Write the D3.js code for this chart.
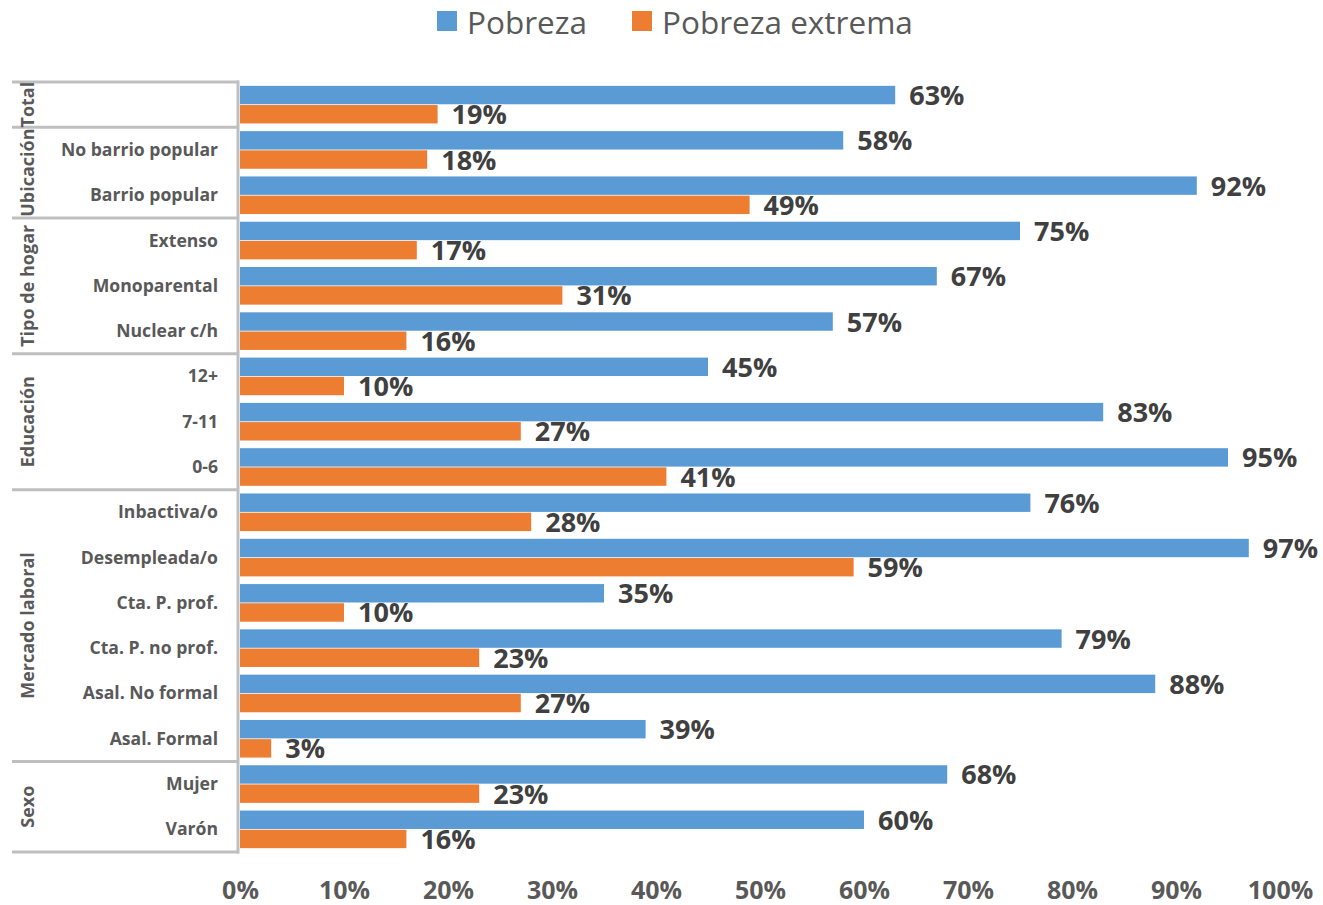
<!DOCTYPE html>
<html><head><meta charset="utf-8">
<script src="https://cdn.jsdelivr.net/npm/d3@7"></script>
<style>body{margin:0;background:#fff}svg{display:block}</style>
</head><body>
<svg id="c" width="1323" height="905"></svg>
<script>
const categories = ["Total","No barrio popular","Barrio popular","Extenso","Monoparental","Nuclear c/h","12+","7-11","0-6","Inbactiva/o","Desempleada/o","Cta. P. prof.","Cta. P. no prof.","Asal. No formal","Asal. Formal","Mujer","Varón"];
const categoryLabels = ["","No barrio popular","Barrio popular","Extenso","Monoparental","Nuclear c/h","12+","7-11","0-6","Inbactiva/o","Desempleada/o","Cta. P. prof.","Cta. P. no prof.","Asal. No formal","Asal. Formal","Mujer","Varón"];
const groups = ["Total","Ubicación","Tipo de hogar","Educación","Mercado laboral","Sexo"];
const groupSizes = [1,2,3,3,6,2];
const pobreza = [63,58,92,75,67,57,45,83,95,76,97,35,79,88,39,68,60];
const extrema = [19,18,49,17,31,16,10,27,41,28,59,10,23,27,3,23,16];
const seriesNames = ["Pobreza","Pobreza extrema"];
const xTicks = [0,10,20,30,40,50,60,70,80,90,100];

const colors = ["#5B9BD5","#ED7D31"];
const svg = d3.select("#c");
const font = "'Open Sans', sans-serif";

const x = d3.scaleLinear().domain([0,100]).range([240,1280]);
const y = d3.scaleBand().domain(categories).range([82,852]).padding(0);
const sub = d3.scaleBand().domain([0,1]).range([0,y.bandwidth()]).paddingInner(0.04).paddingOuter(0.2);

// group frame lines
const gridColor = "#bfbfbf";
let idx = 0;
const bounds = [0];
groupSizes.forEach(s => { idx += s; bounds.push(idx); });
const rowTop = i => i < categories.length ? y(categories[i]) : y.range()[1];
bounds.forEach(b => {
  svg.append("line").attr("x1",12).attr("x2",239).attr("y1",rowTop(b)).attr("y2",rowTop(b))
    .attr("stroke",gridColor).attr("stroke-width",3);
});
svg.append("line").attr("x1",238).attr("x2",238).attr("y1",80.5).attr("y2",853.5)
  .attr("stroke",gridColor).attr("stroke-width",3);

// group labels
groups.forEach((g,i) => {
  const cy = (rowTop(bounds[i]) + rowTop(bounds[i+1]))/2;
  svg.append("text").attr("transform",`translate(34,${cy}) rotate(-90)`)
    .attr("text-anchor","middle").attr("font-family",font).attr("font-weight","bold")
    .attr("font-size",18).attr("fill","#595959").text(g);
});

// category labels
svg.append("g").selectAll("text").data(categories).join("text")
  .attr("x",218).attr("y",d => y(d)+y.bandwidth()/2+6)
  .attr("text-anchor","end").attr("font-family",font).attr("font-weight","bold")
  .attr("font-size",17.6).attr("fill","#595959")
  .text((d,i) => categoryLabels[i]);

// bars
const series = [pobreza, extrema];
series.forEach((vals,si) => {
  const g = svg.append("g");
  g.selectAll("rect").data(categories).join("rect")
    .attr("x",x(0)).attr("y",d => y(d)+sub(si))
    .attr("width",(d,i) => x(vals[i]) - x(0)).attr("height",sub.bandwidth())
    .attr("fill",colors[si]);
  g.selectAll("text").data(categories).join("text")
    .attr("x",(d,i) => x(vals[i]) + 14)
    .attr("y",d => y(d)+sub(si)+sub.bandwidth()/2+10)
    .attr("font-family",font).attr("font-weight","bold").attr("font-size",27)
    .attr("fill","#404040").text((d,i) => vals[i] + "%");
});

// x axis
const ax = svg.append("g").attr("transform","translate(0,881)")
  .call(d3.axisBottom(x).tickValues(xTicks).tickFormat(d => d + "%").tickSize(0).tickPadding(0));
ax.select(".domain").remove();
ax.selectAll("text").attr("font-family",font).attr("font-weight","bold").attr("font-size",25)
  .attr("fill","#595959").attr("dy","0.71em");

// legend
const legend = [{x:437,tx:467},{x:632,tx:662}];
seriesNames.forEach((n,i) => {
  svg.append("rect").attr("x",legend[i].x).attr("y",11).attr("width",20).attr("height",20).attr("fill",colors[i]);
  svg.append("text").attr("x",legend[i].tx).attr("y",34).attr("font-family",font)
    .attr("font-size",31.5).attr("fill","#595959").text(n);
});
</script>
</body></html>
